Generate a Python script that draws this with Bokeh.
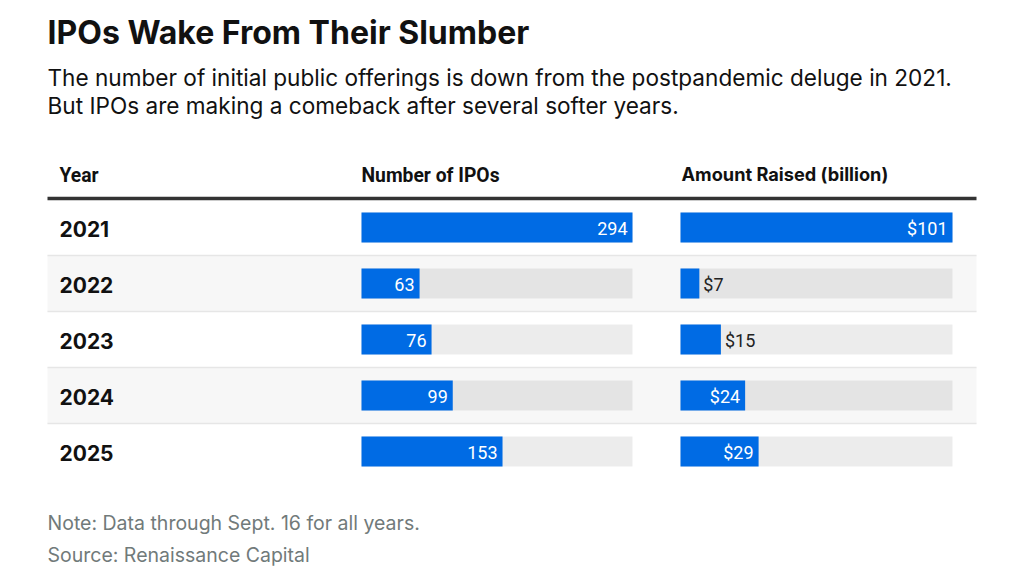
from bokeh.plotting import figure
from bokeh.models import Range1d
from bokeh.core.properties import value
from bokeh.embed import file_html
from bokeh.resources import INLINE

# ---- data ----
years = ["2021", "2022", "2023", "2024", "2025"]
num_ipos = [294, 63, 76, 99, 153]
amount_raised = [101, 7, 15, 24, 29]
ipo_labels = [str(v) for v in num_ipos]
amount_labels = ["$%d" % v for v in amount_raised]

title_text = "IPOs Wake From Their Slumber"
subtitle_lines = [
    "The number of initial public offerings is down from the postpandemic deluge in 2021.",
    "But IPOs are making a comeback after several softer years.",
]
col_year = "Year"
col_ipos = "Number of IPOs"
col_amt = "Amount Raised (billion)"
note_text = "Note: Data through Sept. 16 for all years."
source_text = "Source: Renaissance Capital"

# ---- layout ----
W, H = 1002, 566
X0, Y0 = 1, 1
TABLE_L, TABLE_R = 48, 977
ROW_TOP, ROW_H, BAR_H = 200, 56, 30
IPO_PX = (362, 633)
AMT_PX = (681, 953)
BLUE = "#006be4"
SANS = "Inter"
NUM = "Roboto"

p = figure(width=W, height=H, x_range=Range1d(X0, X0 + W), y_range=Range1d(Y0 + H, Y0),
           output_backend="svg", toolbar_location=None, min_border=0,
           x_axis_location=None, y_axis_location=None)
p.grid.visible = False
p.outline_line_color = None
p.background_fill_color = "white"
p.border_fill_color = "white"


def col_range(px, vmax):
    span = vmax * W / (px[1] - px[0])
    start = vmax - (px[1] - X0) / W * span
    return Range1d(start, start + span)


p.extra_x_ranges = {"ipo": col_range(IPO_PX, max(num_ipos)),
                    "amt": col_range(AMT_PX, max(amount_raised))}

n = len(years)
row_c = [ROW_TOP + ROW_H * i + ROW_H / 2 for i in range(n)]

# shaded rows
shade = [i for i in range(n) if i % 2 == 1]
p.hbar(y=[row_c[i] for i in shade], left=TABLE_L, right=TABLE_R, height=ROW_H,
       fill_color="#f7f7f7", line_color=None)
# row separators
for i in range(1, n):
    yy = ROW_TOP + ROW_H * i
    p.segment(x0=[TABLE_L], y0=[yy], x1=[TABLE_R], y1=[yy], line_color="#e6e6e6", line_width=1.5)
# header line
p.segment(x0=[TABLE_L], y0=[ROW_TOP - 1], x1=[TABLE_R], y1=[ROW_TOP - 1], line_color="#333333", line_width=3.5)

# tracks and bars
for name, vals, labels, px in (("ipo", num_ipos, ipo_labels, IPO_PX), ("amt", amount_raised, amount_labels, AMT_PX)):
    vmax = max(vals)
    p.hbar(y=row_c, left=0, right=vmax, height=BAR_H, fill_color="black", fill_alpha=0.075,
           line_color=None, x_range_name=name)
    p.hbar(y=row_c, left=0, right=vals, height=BAR_H, fill_color=BLUE, line_color=None,
           x_range_name=name)
    inside = [i for i in range(n) if vals[i] / vmax * (px[1] - px[0]) > 50]
    outside = [i for i in range(n) if i not in inside]
    p.text(x=[vals[i] for i in inside], y=[row_c[i] + 1 for i in inside], text=[labels[i] for i in inside],
           x_range_name=name, text_align="right", text_baseline="middle", x_offset=-5,
           text_font=value(NUM), text_font_size="18px", text_color="white")
    p.text(x=[vals[i] for i in outside], y=[row_c[i] + 1 for i in outside], text=[labels[i] for i in outside],
           x_range_name=name, text_align="left", text_baseline="middle", x_offset=4,
           text_font=value(NUM), text_font_size="18px", text_color="#222222")

# year labels
p.text(x=[60] * n, y=[c + 1 for c in row_c], text=years, text_baseline="middle",
       text_font=value(SANS), text_font_style="bold", text_font_size="21px", text_color="#111111")

# headers
p.text(x=[60, 362], y=[176, 176], text=[col_year, col_ipos], text_baseline="alphabetic",
       text_font=value(NUM), text_font_style="bold", text_font_size="19.3px", text_color="#111111")
p.text(x=[682], y=[174.5], text=[col_amt], text_baseline="alphabetic",
       text_font=value(SANS), text_font_style="bold", text_font_size="18.2px", text_color="#111111")

# title and subtitle
p.text(x=[48], y=[33], text=[title_text], text_baseline="alphabetic",
       text_font=value(SANS), text_font_style="bold", text_font_size="32px", text_color="#111111")
p.text(x=[48, 48], y=[78, 106], text=subtitle_lines, text_baseline="alphabetic",
       text_font=value(SANS), text_font_size="22.6px", text_color="#111111")

# note / source
p.text(x=[48, 48], y=[523, 555], text=[note_text, source_text], text_baseline="alphabetic",
       text_font=value(SANS), text_font_size="19.5px", text_color="#717a7a")

open("out.html", "w").write(file_html(p, INLINE))
